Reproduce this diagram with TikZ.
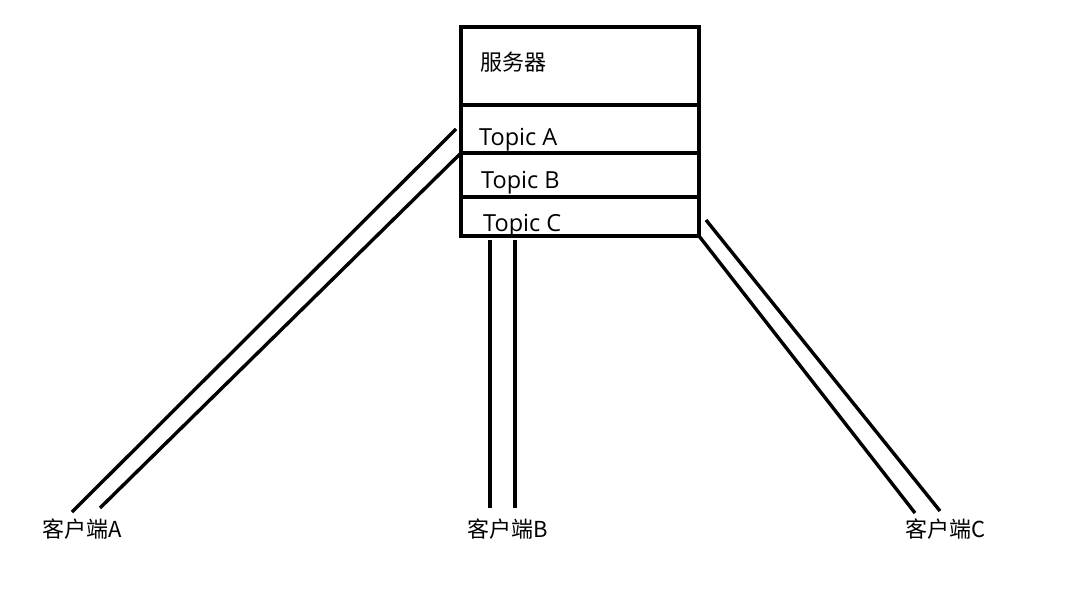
\documentclass[tikz,border=0pt]{standalone}
\usepackage{fontspec}
\setmainfont{Open Sans}
\newfontfamily\cjk{Noto Sans CJK SC}
\begin{document}
\begin{tikzpicture}[x=1pt,y=-1pt,
  wire/.style={line width=3.4pt},
  boxline/.style={line width=3.6pt},
  topictext/.style={anchor=base west,inner sep=0pt,font=\fontsize{23.5}{26}\selectfont},
  cjktext/.style={anchor=base west,inner sep=0pt,font=\cjk\fontsize{22}{25}\selectfont}]
\useasboundingbox (0,0) rectangle (1092,591);
% server box
\coordinate (tl) at (461,27);
\coordinate (br) at (699,236);
\draw[boxline] (tl) rectangle (br);
\coordinate (d1l) at (461,105); \coordinate (d1r) at (699,105);
\coordinate (d2l) at (461,153); \coordinate (d2r) at (699,153);
\coordinate (d3l) at (461,197); \coordinate (d3r) at (699,197);
\draw[boxline] (d1l) -- (d1r);
\draw[boxline] (d2l) -- (d2r);
\draw[boxline] (d3l) -- (d3r);
\node[cjktext] (srv) at (480,71) {服务器};
\node[topictext] (ta) at (479,146) {Topic A};
\node[topictext] (tb) at (481,188) {Topic B};
\node[topictext] (tc) at (483,231) {Topic C};
% clients
\node[cjktext] (ca) at (42,537) {客户端A};
\node[cjktext] (cb) at (467,537) {客户端B};
\node[cjktext] (cc) at (905,537) {客户端C};
% connectors A
\coordinate (a1s) at (456,129); \coordinate (a1e) at (72,512);
\coordinate (a2s) at (461,153); \coordinate (a2e) at (100,508);
\draw[wire] (a1s) -- (a1e);
\draw[wire] (a2s) -- (a2e);
% connectors B
\coordinate (b1s) at (490,240); \coordinate (b1e) at (490,508);
\coordinate (b2s) at (515,240); \coordinate (b2e) at (515,508);
\draw[wire] (b1s) -- (b1e);
\draw[wire] (b2s) -- (b2e);
% connectors C
\coordinate (c1s) at (699,236); \coordinate (c1e) at (915,513);
\coordinate (c2s) at (706,220); \coordinate (c2e) at (940,511);
\draw[wire] (c1s) -- (c1e);
\draw[wire] (c2s) -- (c2e);
\end{tikzpicture}
\end{document}
